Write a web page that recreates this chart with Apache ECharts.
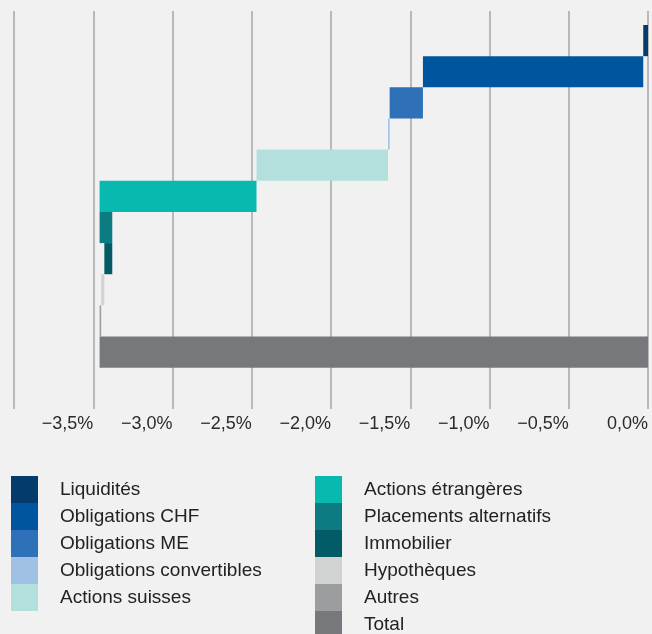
<!DOCTYPE html>
<html>
<head>
<meta charset="utf-8">
<script src="https://cdn.jsdelivr.net/npm/echarts@6/dist/echarts.min.js"></script>
<style>
  html, body { margin: 0; padding: 0; background: #f1f1f1; }
  #chart { width: 652px; height: 634px; }
</style>
</head>
<body>
<div id="chart"></div>
<script>
// Contributions to performance, in percentage points (waterfall from 0 downwards)
const categories = [
  'Liquidités', 'Obligations CHF', 'Obligations ME', 'Obligations convertibles',
  'Actions suisses', 'Actions étrangères', 'Placements alternatifs', 'Immobilier',
  'Hypothèques', 'Autres', 'Total'
];
const contributions = [-0.03, -1.39, -0.21, -0.01, -0.83, -0.99, 0.08, -0.05, -0.02, -0.01];
const totalValue = -3.46;
const palette = [
  '#023b6c', '#00569e', '#2e71b9', '#a0c1e4', '#b3e0dc', '#08b9b0',
  '#0c7c82', '#035b66', '#d1d3d2', '#9c9d9f', '#77787c'
];
const legendLeftNames = categories.slice(0, 5);
const legendRightNames = categories.slice(5);

// Invisible offsets and visible spans for the stacked waterfall
const offsets = [];
const spans = [];
let running = 0;
contributions.forEach(function (d) {
  const next = running + d;
  const top = Math.max(running, next);
  offsets.push(top === 0 ? '-' : top);
  spans.push(-Math.abs(d));
  running = next;
});
offsets.push('-');
spans.push(totalValue);

const FONT = '"Liberation Sans", Arial, sans-serif';

function pct(v) {
  if (v <= -4) return '';
  const s = Math.abs(v).toFixed(1).replace('.', ',') + '%';
  return v < 0 ? '\u2212' + s : s;
}

const series = [{
  type: 'bar',
  name: '_offset',
  xAxisIndex: 1,
  yAxisIndex: 1,
  stack: 'waterfall',
  barWidth: '100%',
  itemStyle: { color: 'transparent' },
  emphasis: { disabled: true },
  data: offsets
}];
categories.forEach(function (name, i) {
  series.push({
    type: 'bar',
    name: name,
    xAxisIndex: 1,
    yAxisIndex: 1,
    stack: 'waterfall',
    barWidth: '100%',
    itemStyle: { color: palette[i] },
    data: categories.map(function (_, j) { return j === i ? spans[i] : '-'; })
  });
});

const legendBase = {
  orient: 'vertical',
  top: 476,
  height: 200,
  padding: 0,
  itemWidth: 27,
  itemHeight: 27,
  itemGap: 0,
  icon: 'rect',
  selectedMode: false,
  textStyle: {
    fontFamily: FONT,
    fontSize: 19,
    color: '#222222',
    padding: [0, 0, 0, 17]
  }
};

const chart = echarts.init(document.getElementById('chart'), null, { renderer: 'canvas' });
chart.setOption({
  backgroundColor: '#f1f1f1',
  animation: false,
  color: palette,
  grid: [
    { left: 14, right: 4, top: 11, height: 398 },
    { left: 14, right: 4, top: 25, height: 342.7 }
  ],
  xAxis: [{
    gridIndex: 0,
    type: 'value',
    min: -4,
    max: 0,
    interval: 0.5,
    axisLine: { show: false },
    axisTick: { show: false },
    splitLine: { show: true, lineStyle: { color: '#a6a6a6', width: 1.5 } },
    axisLabel: {
      formatter: pct,
      fontFamily: FONT,
      fontSize: 18,
      color: '#2a2a2a',
      align: 'right',
      margin: 6
    }
  }, {
    gridIndex: 1,
    type: 'value',
    min: -4,
    max: 0,
    show: false,
    splitLine: { show: false }
  }],
  yAxis: [{
    gridIndex: 0,
    type: 'value',
    show: false,
    splitLine: { show: false }
  }, {
    gridIndex: 1,
    type: 'category',
    data: categories,
    inverse: true,
    show: false
  }],
  legend: [
    Object.assign({}, legendBase, { left: 11, data: legendLeftNames }),
    Object.assign({}, legendBase, { left: 315, data: legendRightNames })
  ],
  series: series
});
</script>
</body>
</html>
